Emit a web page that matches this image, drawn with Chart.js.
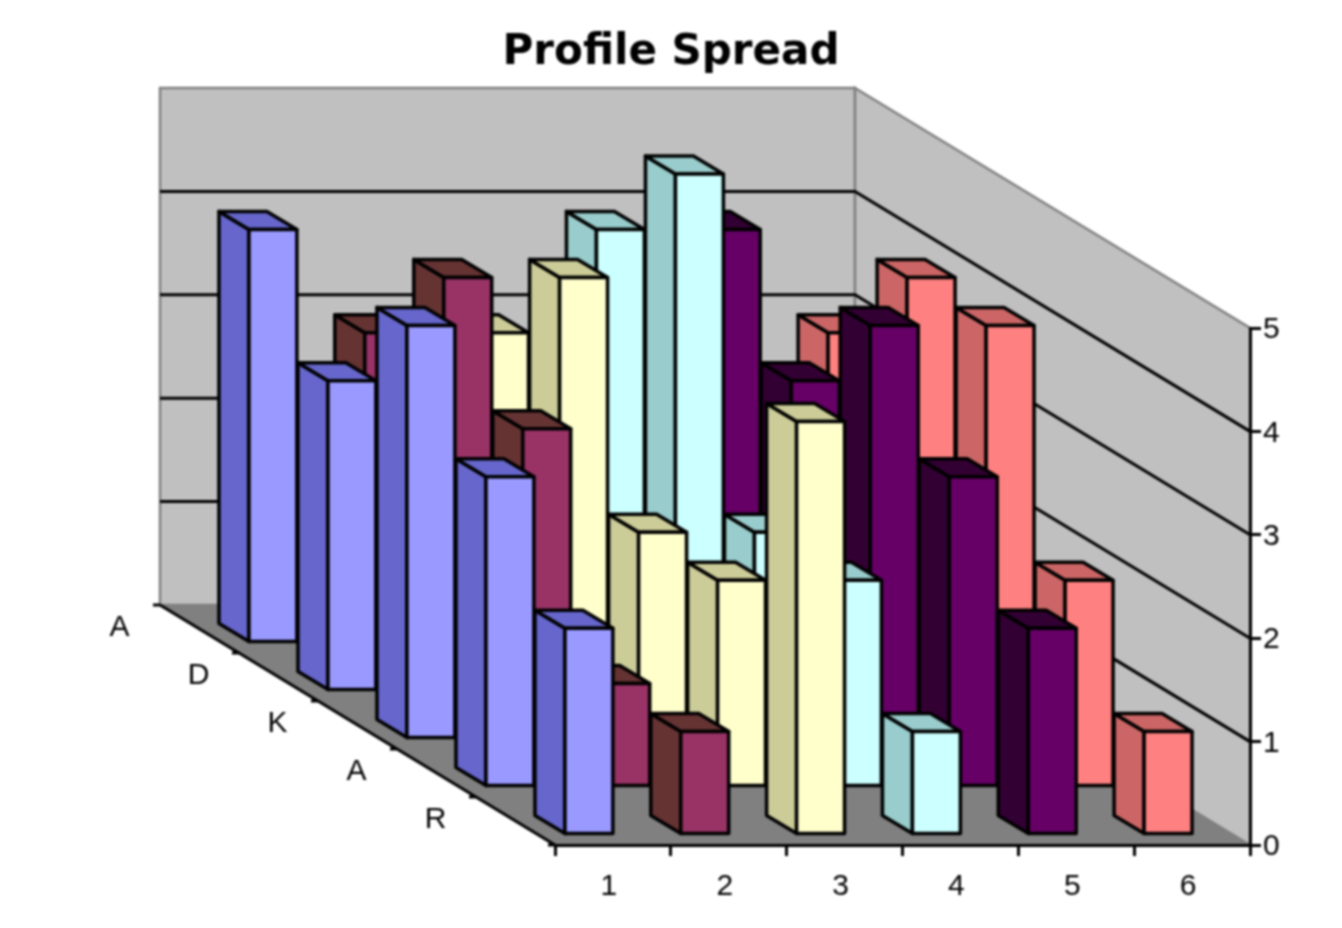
<!DOCTYPE html>
<html>
<head>
<meta charset="utf-8">
<title>Profile Spread</title>
<script src="https://cdn.jsdelivr.net/npm/chart.js@4"></script>
<style>
  html, body { margin: 0; padding: 0; background: #fff; }
  canvas { display: block; filter: blur(0.9px); }
</style>
</head>
<body>
<canvas id="myChart" width="1342" height="928"></canvas>
<script>
// Chart data, one list per row, back row first
const categories = ["1", "2", "3", "4", "5", "6"];
const rowLabels = ["A", "D", "K", "A", "R"];
const rowBack = [4, 3, 3, 4, 4, 3];      // A
const rowSecond = [3, 4, 4, 5, 3, 4];    // D
const rowMiddle = [4, 3, 2, 2, 4, 4];    // K
const rowFourth = [3, 1, 2, 2, 3, 2];    // A
const rowFront = [2, 1, 4, 1, 2, 1];     // R
const rowValues = [rowBack, rowSecond, rowMiddle, rowFourth, rowFront];
const yTicks = [0, 1, 2, 3, 4, 5];

const frontColors = ["#9999FF", "#993366", "#FFFFCC", "#CCFFFF", "#660066", "#FF8080"];
const sideColors = ["#6666CC", "#663333", "#CCCC99", "#99CCCC", "#330033", "#CC6666"];

// Oblique projection, pixels per row of depth
const ROW_DX = 79;
const ROW_DY = 48;
const BAR_DX = 30;
const BAR_DY = 18;
const FRONT_GAP_X = 24;
const FRONT_GAP_Y = 10;

function poly(ctx, pts, fill, stroke, lw) {
  ctx.beginPath();
  pts.forEach((p, i) => i ? ctx.lineTo(p[0], p[1]) : ctx.moveTo(p[0], p[1]));
  ctx.closePath();
  if (fill) { ctx.fillStyle = fill; ctx.fill(); }
  if (stroke) { ctx.strokeStyle = stroke; ctx.lineWidth = lw; ctx.stroke(); }
}

// Walls and floor go under the axes
const wallsPlugin = {
  id: "walls",
  beforeDraw(chart) {
    const ctx = chart.ctx;
    const { left, right } = chart.chartArea;
    const yScale = chart.scales.y;
    const dx = ROW_DX * rowLabels.length;
    const dy = ROW_DY * rowLabels.length;
    const top = yScale.getPixelForValue(5);
    const bottom = yScale.getPixelForValue(0);

    ctx.save();
    poly(ctx, [[left - dx, top - dy], [right - dx, top - dy], [right - dx, bottom - dy], [left - dx, bottom - dy]], "#C0C0C0", "#808080", 2.5);
    poly(ctx, [[right - dx, top - dy], [right, top], [right, bottom], [right - dx, bottom - dy]], "#C0C0C0", "#808080", 2.5);
    poly(ctx, [[left - dx, bottom - dy], [right - dx, bottom - dy], [right, bottom], [left, bottom]], "#808080");

    // gridlines run along the back wall and the side wall
    ctx.strokeStyle = "#000";
    ctx.lineWidth = 3;
    yTicks.slice(1, -1).forEach(v => {
      const y = yScale.getPixelForValue(v);
      ctx.beginPath();
      ctx.moveTo(left - dx, y - dy);
      ctx.lineTo(right - dx, y - dy);
      ctx.lineTo(right, y);
      ctx.stroke();
    });

    // depth axis with its ticks and labels
    ctx.beginPath();
    ctx.moveTo(left, bottom);
    ctx.lineTo(left - dx, bottom - dy);
    for (let r = 0; r <= rowLabels.length; r++) {
      ctx.moveTo(left - r * ROW_DX, bottom - r * ROW_DY);
      ctx.lineTo(left - r * ROW_DX - 7, bottom - r * ROW_DY);
    }
    ctx.stroke();

    ctx.fillStyle = "#000";
    ctx.font = "30px 'Liberation Sans'";
    ctx.textAlign = "center";
    ctx.textBaseline = "middle";
    rowLabels.forEach((label, i) => {
      const r = rowLabels.length - 1 - i + 0.5;
      ctx.fillText(label, left - r * ROW_DX - 80, bottom - r * ROW_DY - 1);
    });
    ctx.restore();
  }
};

// Paint the bar elements as boxes, back to front, right to left
const boxPlugin = {
  id: "boxes",
  beforeDatasetsDraw(chart) {
    const ctx = chart.ctx;
    ctx.save();
    ctx.lineJoin = "round";
    chart.data.datasets.forEach((ds, i) => {
      const depth = rowLabels.length - 1 - i;
      const offX = -depth * ROW_DX - FRONT_GAP_X;
      const offY = -depth * ROW_DY - FRONT_GAP_Y;
      const bars = chart.getDatasetMeta(i).data;
      for (let c = bars.length - 1; c >= 0; c--) {
        const b = bars[c];
        const l = b.x - b.width / 2 + offX;
        const r = b.x + b.width / 2 + offX;
        const t = b.y + offY;
        const f = b.base + offY;
        poly(ctx, [[l, t], [l - BAR_DX, t - BAR_DY], [l - BAR_DX, f - BAR_DY], [l, f]], sideColors[c], "#000", 3.5);
        poly(ctx, [[l, t], [l - BAR_DX, t - BAR_DY], [r - BAR_DX, t - BAR_DY], [r, t]], sideColors[c], "#000", 3.5);
        poly(ctx, [[l, t], [r, t], [r, f], [l, f]], frontColors[c], "#000", 3.5);
      }
    });
    ctx.restore();
    return false;
  }
};

new Chart(document.getElementById("myChart"), {
  type: "bar",
  data: {
    labels: categories,
    datasets: rowValues.map((values, i) => ({
      label: rowLabels[i],
      data: values,
      grouped: false,
      barPercentage: 0.414,
      categoryPercentage: 1,
      backgroundColor: frontColors
    }))
  },
  options: {
    responsive: false,
    animation: false,
    plugins: {
      legend: { display: false },
      tooltip: { enabled: false },
      title: {
        display: true,
        text: "Profile Spread",
        color: "#000",
        font: { family: "'DejaVu Sans'", size: 42, weight: "bold", lineHeight: 1 },
        padding: { top: 32, bottom: 254 }
      }
    },
    scales: {
      x: {
        afterFit(scale) { scale.height = 83; },
        border: { color: "#000", width: 3 },
        grid: { drawOnChartArea: false, color: "#000", lineWidth: 3, tickLength: 11 },
        ticks: { color: "#000", font: { family: "'Liberation Sans'", size: 30 }, padding: 13, maxRotation: 0, labelOffset: -4 }
      },
      y: {
        position: "right",
        min: 0,
        max: 5,
        afterFit(scale) { scale.width = 92; },
        border: { color: "#000", width: 3 },
        grid: { drawOnChartArea: false, color: "#000", lineWidth: 3, tickLength: 11 },
        ticks: { stepSize: 1, color: "#000", font: { family: "'Liberation Sans'", size: 30 }, padding: 2, labelOffset: 2 }
      },
      // empty axis that holds the room left of the front plane
      spacer: {
        position: "left",
        display: true,
        afterFit(scale) { scale.width = 555; },
        border: { display: false },
        grid: { display: false },
        ticks: { display: false }
      }
    }
  },
  plugins: [wallsPlugin, boxPlugin]
});
</script>
</body>
</html>
